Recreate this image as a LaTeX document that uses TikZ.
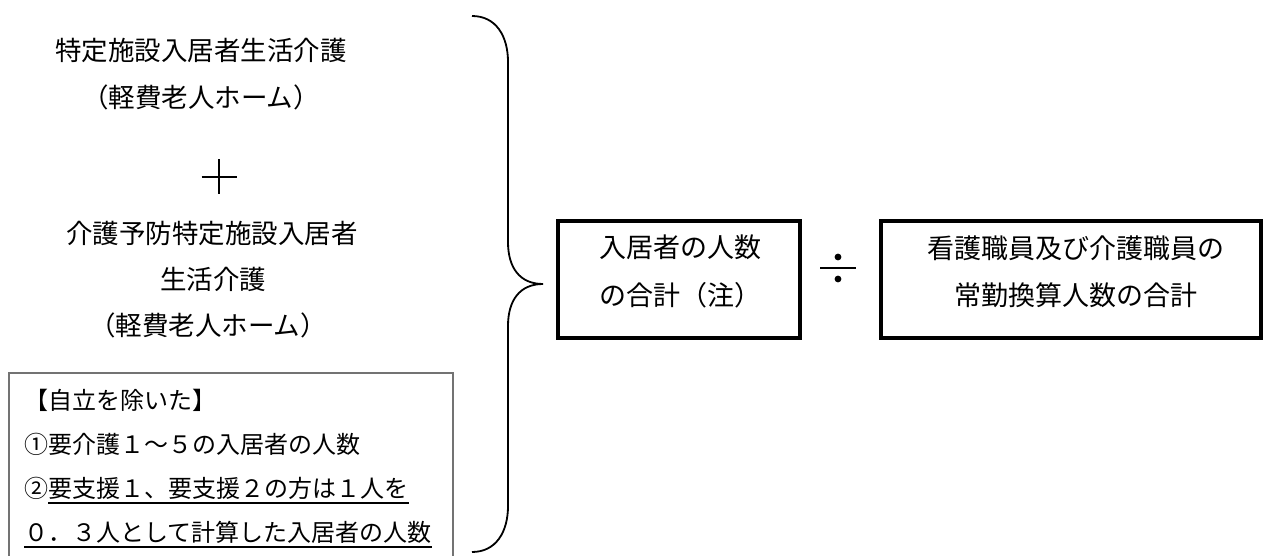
\documentclass[tikz,border=0pt]{standalone}
\usepackage{fontspec}
\setmainfont{Noto Sans CJK JP}
\begin{document}
\begin{tikzpicture}[x=1pt,y=-1pt,
  lbl/.style={inner sep=0pt,font=\fontsize{26.5}{30}\selectfont},
  boxtxt/.style={inner sep=0pt,font=\fontsize{27}{30}\selectfont},
  smalltxt/.style={inner sep=0pt,font=\fontsize{24}{28}\selectfont,anchor=base west},
  thickbox/.style={draw=black,line width=3.6pt},
  notebox/.style={draw=black!55,line width=1.1pt},
  ul/.style={line width=1.6pt}
]
\useasboundingbox (0,0) rectangle (1263,556);
% left texts
\node[lbl] (t1) at (201,50) {特定施設入居者生活介護};
\node[lbl] (t2) at (201,97) {（軽費老人ホーム）};
\coordinate (pc) at (219,177);
\draw[line width=2.4pt] ([xshift=-17.5pt]pc) -- ([xshift=17.5pt]pc);
\draw[line width=2.4pt] ([yshift=17.5pt]pc) -- ([yshift=-17.5pt]pc);
\node[lbl] (t3) at (212,233) {介護予防特定施設入居者};
\node[lbl] (t4) at (213,279) {生活介護};
\node[lbl] (t5) at (208,325) {（軽費老人ホーム）};
% note box
\draw[notebox] (453,600) -- (453,373) -- (9,373) -- (9,600);
\node[smalltxt] (n1) at (24,409) {【自立を除いた】};
\node[smalltxt] (n2) at (24,453) {①要介護１～５の入居者の人数};
\node[smalltxt] (n3a) at (24,497) {②};
\node[smalltxt] (n3b) at (n3a.base east) {要支援１、要支援２の方は１人を};
\node[smalltxt] (n4) at (24,541) {０．３人として計算した入居者の人数};
\draw[ul] ([yshift=-6pt]n3b.base west) -- ([yshift=-6pt]n3b.base east);
\draw[ul] ([yshift=-6pt]n4.base west) -- ([yshift=-6pt]n4.base east);
% brace
\coordinate (bt) at (472,16);
\coordinate (tip) at (543,284);
\coordinate (bb) at (472,552);
\draw[line width=1.8pt] (bt) .. controls (496,16) and (508,36) .. (508,62)
  -- (508,242) .. controls (508,268) and (520,284) .. (tip)
  .. controls (520,284) and (508,300) .. (508,326)
  -- (508,506) .. controls (508,532) and (496,552) .. (bb);
% box 1
\node[thickbox,minimum width=242pt,minimum height=117pt,inner sep=0pt] (b1) at (679,279.5) {};
\node[boxtxt] (b1a) at (680,247) {入居者の人数};
\node[boxtxt] (b1b) at (680,295) {の合計（注）};
% divide
\coordinate (dv) at (838,268);
\draw[line width=2.4pt] ([xshift=-18pt]dv) -- ([xshift=18pt]dv);
\fill ([yshift=-11pt]dv) circle (3.4pt);
\fill ([yshift=11pt]dv) circle (3.4pt);
% box 2
\node[thickbox,minimum width=380pt,minimum height=117pt,inner sep=0pt] (b2) at (1071,279.5) {};
\node[boxtxt] (b2a) at (1076,248) {看護職員及び介護職員の};
\node[boxtxt] (b2b) at (1076,295) {常勤換算人数の合計};
\end{tikzpicture}
\end{document}
